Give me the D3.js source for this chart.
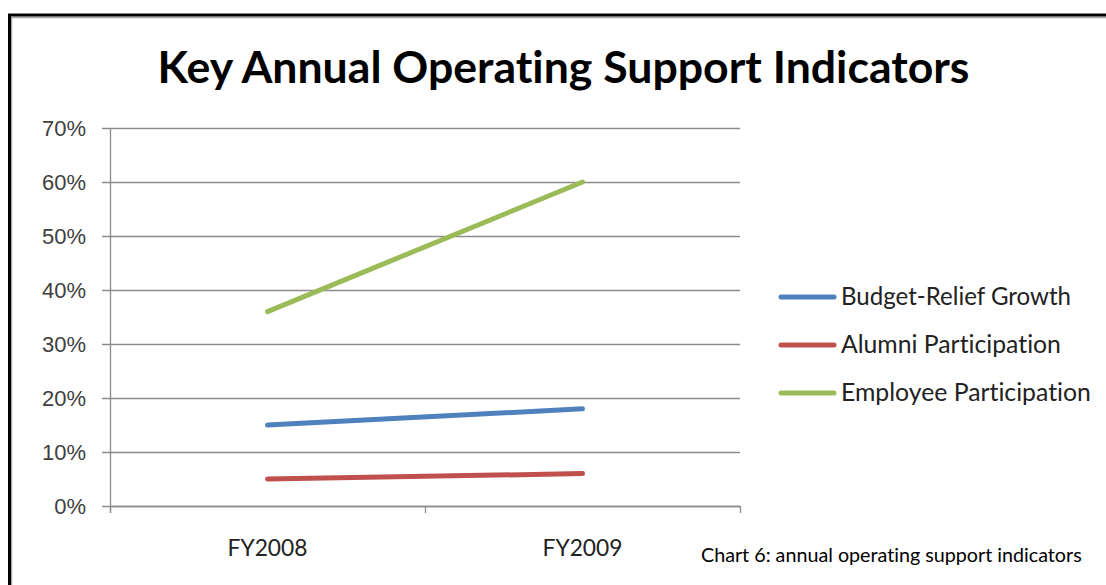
<!DOCTYPE html>
<html>
<head>
<meta charset="utf-8">
<script src="https://cdn.jsdelivr.net/npm/d3@7"></script>
<style>
  html, body { margin: 0; padding: 0; background: #fff; }
  svg { display: block; }
  text { font-variant-ligatures: none; font-feature-settings: "liga" 0, "clig" 0, "dlig" 0; }
</style>
</head>
<body>
<svg id="chart" width="1106" height="585"></svg>
<script>
const categories = ["FY2008", "FY2009"];
const seriesNames = ["Budget-Relief Growth", "Alumni Participation", "Employee Participation"];
const budgetRelief = [0.15, 0.18];
const alumni = [0.05, 0.06];
const employee = [0.36, 0.60];
const yTicks = [0, 0.1, 0.2, 0.3, 0.4, 0.5, 0.6, 0.7];
const colors = ["#4F81BD", "#C0504D", "#9BBB59"];
const titleText = "Key Annual Operating Support Indicators";
const captionText = "Chart 6: annual operating support indicators";

const series = [budgetRelief, alumni, employee];
const svg = d3.select("#chart");
const W = 1106, H = 585;
const calibriLike = "Lato, 'Open Sans', sans-serif";

// frame
svg.append("rect").attr("x", 0).attr("y", 0).attr("width", W).attr("height", H).attr("fill", "#fff");
svg.append("path").attr("d", `M11.5,${H} V17.5 H${W}`).attr("fill", "none").attr("stroke", "#a6a6a6").attr("stroke-width", 1.5);
svg.append("path").attr("d", `M9.5,${H} V15 H${W}`).attr("fill", "none").attr("stroke", "#000").attr("stroke-width", 3);

const x = d3.scaleBand().domain(categories).range([110, 740]);
const y = d3.scaleLinear().domain([0, 0.7]).range([506, 128]);

function fit(sel, target) {
  const node = sel.node();
  const fs = parseFloat(sel.attr("font-size"));
  const w = node.getComputedTextLength();
  sel.attr("font-size", (fs * target / w).toFixed(2));
}

// gridlines & y axis
const yAxis = d3.axisLeft(y).tickValues(yTicks).tickFormat(d3.format(".0%")).tickSize(-630).tickSizeOuter(0).tickPadding(16);
const gy = svg.append("g").attr("transform", "translate(110,0)").call(yAxis);
gy.select(".domain").remove();
gy.selectAll(".tick line").attr("stroke", "#8c8c8c").attr("stroke-width", 1.3).attr("x1", -8);
gy.selectAll(".tick text").attr("font-family", "'Liberation Sans', Arial, sans-serif").attr("font-size", 22).attr("fill", "#404040").attr("x", -24).attr("dy", "0.36em");
svg.append("line").attr("x1", 110.5).attr("x2", 110.5).attr("y1", 128).attr("y2", 513).attr("stroke", "#8c8c8c").attr("stroke-width", 1.3);

// x axis
const xAxis = d3.axisBottom(x).tickSize(0).tickPadding(0);
const gx = svg.append("g").attr("transform", "translate(0,506)").call(xAxis);
gx.select(".domain").attr("stroke", "#8c8c8c").attr("stroke-width", 1.3);
gx.selectAll(".tick text").attr("font-family", calibriLike).attr("font-size", 21).attr("fill", "#222").attr("y", 50).attr("dy", 0);
// category boundary ticks
const bounds = [x.range()[0], x(categories[1]), x.range()[1]];
svg.append("g").selectAll("line").data(bounds).join("line")
  .attr("x1", d => d + 0.5).attr("x2", d => d + 0.5).attr("y1", 506).attr("y2", 513)
  .attr("stroke", "#8c8c8c").attr("stroke-width", 1.3);
gx.selectAll(".tick text").each(function() { fit(d3.select(this), 80); });

// lines
const line = d3.line().x((d, i) => x(categories[i]) + x.bandwidth() / 2).y(d => y(d));
svg.append("g").selectAll("path").data(series).join("path")
  .attr("d", d => line(d)).attr("fill", "none")
  .attr("stroke", (d, i) => colors[i]).attr("stroke-width", 5).attr("stroke-linecap", "round");

// title
const t = svg.append("text").attr("x", 563.5).attr("y", 83).attr("text-anchor", "middle")
  .attr("font-family", calibriLike).attr("font-weight", "bold").attr("font-size", 44).attr("fill", "#000").text(titleText);
fit(t, 812);

// legend
const legY = [297, 345, 393];
const lg = svg.append("g").selectAll("g").data(seriesNames).join("g")
  .attr("transform", (d, i) => `translate(0,${legY[i]})`);
lg.append("line").attr("x1", 781).attr("x2", 834).attr("stroke", (d, i) => colors[i]).attr("stroke-width", 5).attr("stroke-linecap", "round");
lg.append("text").attr("x", 841).attr("y", 8).attr("font-family", calibriLike).attr("font-size", 21).attr("fill", "#222").text(d => d);
const legendWidths = [230, 220, 250];
lg.select("text").each(function(d, i) { fit(d3.select(this), legendWidths[i]); });

// caption
const c = svg.append("text").attr("x", 701).attr("y", 562).attr("font-family", calibriLike).attr("font-size", 17).attr("fill", "#000").text(captionText);
fit(c, 381);
</script>
</body>
</html>
